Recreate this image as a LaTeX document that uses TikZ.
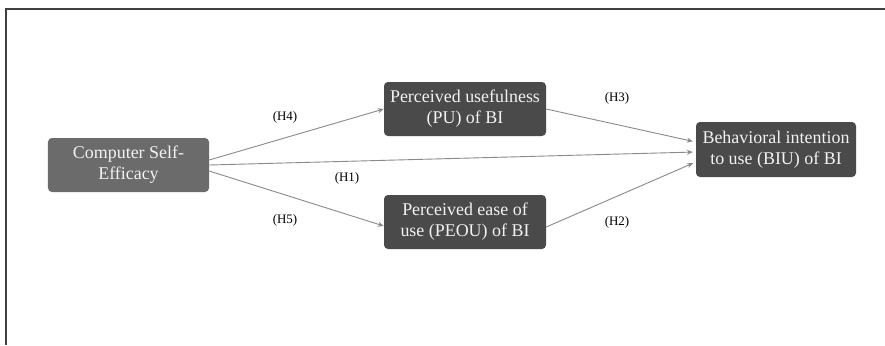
\documentclass[tikz,border=0pt]{standalone}
\usepackage{fontspec}
\setmainfont{Liberation Serif}
\usetikzlibrary{arrows.meta}
\definecolor{boxlight}{HTML}{6B6B6B}
\definecolor{boxdark}{HTML}{4A4A4A}
\definecolor{arrowgray}{HTML}{8A8A8A}
\definecolor{txt}{HTML}{F2F2F2}
\definecolor{framegray}{HTML}{404040}
\tikzset{
  box/.style={rounded corners=4bp, minimum height=54bp, text=txt, align=center,
    font=\fontsize{18}{21}\selectfont, inner sep=0pt},
  conn/.style={draw=arrowgray, line width=0.9bp, -{Stealth[length=6bp,width=5bp]}},
  hlab/.style={font=\fontsize{13}{15}\selectfont, text=black, inner sep=0pt}
}
\begin{document}
\begin{tikzpicture}[x=1bp,y=-1bp]
\useasboundingbox (0,0) rectangle (885,345);
\fill[white] (0,0) rectangle (885,345);
\draw[framegray, line width=1.3bp] (6,345) -- (6,9) -- (885,9);

\node[box, fill=boxlight, minimum width=161bp] (cse) at (128.5,165) {Computer Self-\\Efficacy};
\node[box, fill=boxdark, minimum width=162bp] (pu) at (465,109) {Perceived usefulness\\(PU) of BI};
\node[box, fill=boxdark, minimum width=162bp] (peou) at (465,222) {Perceived ease of\\use (PEOU) of BI};
\node[box, fill=boxdark, minimum width=160bp, minimum height=55bp] (biu) at (776,149.5) {Behavioral intention\\to use (BIU) of BI};

\draw[conn] ([yshift=5bp]cse.east) -- (pu.west);
\draw[conn, shorten >=3bp] (cse.east) -- ([yshift=-2.5bp]biu.west);
\draw[conn] ([yshift=-6bp]cse.east) -- ([yshift=-4bp]peou.west);
\draw[conn, shorten >=3bp] (pu.east) -- ([yshift=7.5bp]biu.west);
\draw[conn, shorten >=3bp] ([yshift=-5bp]peou.east) -- ([yshift=-12.5bp]biu.west);

\node[hlab] (h4) at (285,117) {(H4)};
\node[hlab] (h1) at (347,178) {(H1)};
\node[hlab] (h5) at (285,220) {(H5)};
\node[hlab] (h3) at (617,98) {(H3)};
\node[hlab] (h2) at (617,222) {(H2)};
\end{tikzpicture}
\end{document}
